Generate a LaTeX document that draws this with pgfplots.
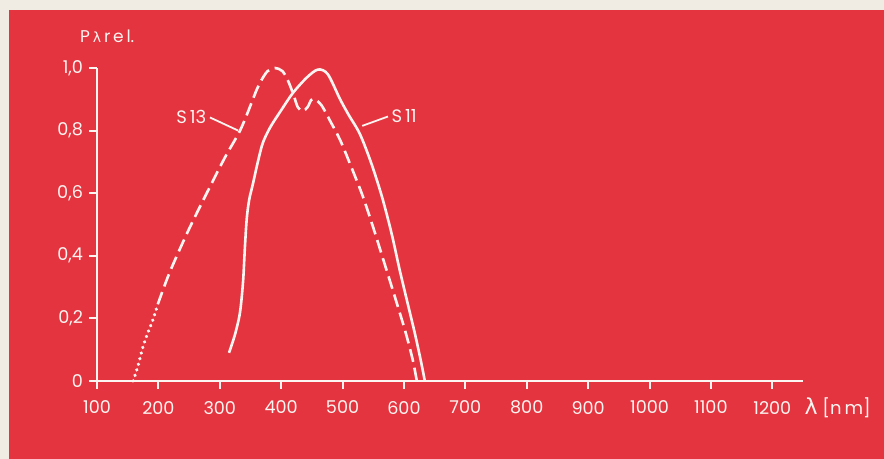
\documentclass[border=0pt]{standalone}
\usepackage{fontspec}
\setmainfont{Poppins}
\newfontfamily\greek{DejaVu Sans}
\usepackage{pgfplots}
\pgfplotsset{compat=1.18}
\definecolor{bg}{RGB}{228,52,64}
\definecolor{paper}{RGB}{240,236,228}
\definecolor{ink}{RGB}{252,244,240}
\begin{document}
\begin{tikzpicture}
\fill[paper] (-48.5pt,-39pt) rectangle (393.5pt,190.5pt);
\path[use as bounding box] (-48.5pt,-39pt) rectangle (393.5pt,190.5pt);
\fill[bg] (-44pt,-39pt) rectangle (393.5pt,185.5pt);
\begin{axis}[
  at={(0,0)}, anchor=south west,
  scale only axis, width=353pt, height=156.5pt,
  xmin=100, xmax=1250, ymin=0, ymax=1,
  axis x line*=bottom, axis y line*=left,
  axis line style={ink, line width=1pt, -},
  xtick={100,200,...,1200},
  xticklabels={100,200,300,400,500,600,700,800,900,1000,1100,1200},
  ytick={0,0.2,0.4,0.6,0.8,1.0},
  yticklabels={0,{0,2},{0,4},{0,6},{0,8},{1,0}},
  tick align=outside, major tick length=4pt,
  tick style={ink, line width=1pt},
  ticklabel style={text=ink, font=\fontsize{8.8}{10}\selectfont},
  xticklabel style={yshift=-2.5pt},
  yticklabel style={xshift=0.5pt},
  /pgf/number format/assume math mode=true,
  clip=false,
]
% S13 dotted start
\addplot[ink, line width=1.7pt, line cap=round, dash pattern=on 0.1pt off 2.8pt, smooth]
  coordinates {(159,0) (167,0.05) (175,0.11) (183,0.155) (191,0.195) (199,0.245)};
% S13 dashed
\addplot[ink, line width=1.3pt, dash pattern=on 6.5pt off 3pt, smooth, tension=0.5]
  coordinates {(199,0.245) (219,0.35) (251,0.49) (289,0.64) (310,0.72) (333,0.80) (350,0.88) (360,0.93) (369,0.965) (378,0.99) (390,1.0) (402,0.99) (411,0.96) (420,0.915) (427,0.875) (435,0.862) (443,0.875) (449,0.898) (455,0.90) (466,0.88) (480,0.83) (496,0.77) (515,0.68) (533,0.59) (550,0.49) (566,0.39) (585,0.27) (602,0.16) (614,0.07) (621,0)};
% S11 solid
\addplot[ink, line width=1.3pt, smooth, tension=0.5]
  coordinates {(315,0.09) (325,0.15) (333,0.22) (338,0.32) (341,0.43) (344,0.52) (348,0.58) (354,0.63) (362,0.70) (370,0.76) (382,0.81) (400,0.865) (419,0.92) (442,0.97) (460,0.995) (476,0.98) (496,0.90) (510,0.85) (528,0.79) (546,0.70) (564,0.59) (580,0.47) (593,0.355) (607,0.24) (618,0.15) (628,0.06) (634,0)};
% leader lines and labels
\draw[ink, line width=0.9pt] (axis cs:284,0.842) -- (axis cs:330,0.80);
\node[anchor=east, text=ink, font=\fontsize{9}{10}\selectfont, inner sep=1pt] at (axis cs:282,0.845) {S\,13};
\draw[ink, line width=0.9pt] (axis cs:532,0.815) -- (axis cs:574,0.845);
\node[anchor=west, text=ink, font=\fontsize{9}{10}\selectfont, inner sep=1pt] at (axis cs:576,0.845) {S\,11};
\node[anchor=base west, text=ink, font=\fontsize{8.5}{9}\selectfont, inner sep=0pt] at (axis cs:72,1.08) {P\,{\greek\fontsize{7}{8}\selectfont λ}\,r\,e\,l.};
\node[anchor=base west, text=ink, font=\fontsize{9}{10}\selectfont, inner sep=0pt] at (axis cs:1252,0) [yshift=-17pt] {{\greek\fontsize{11}{12}\selectfont λ} [n\,m]};
\end{axis}
\end{tikzpicture}
\end{document}
